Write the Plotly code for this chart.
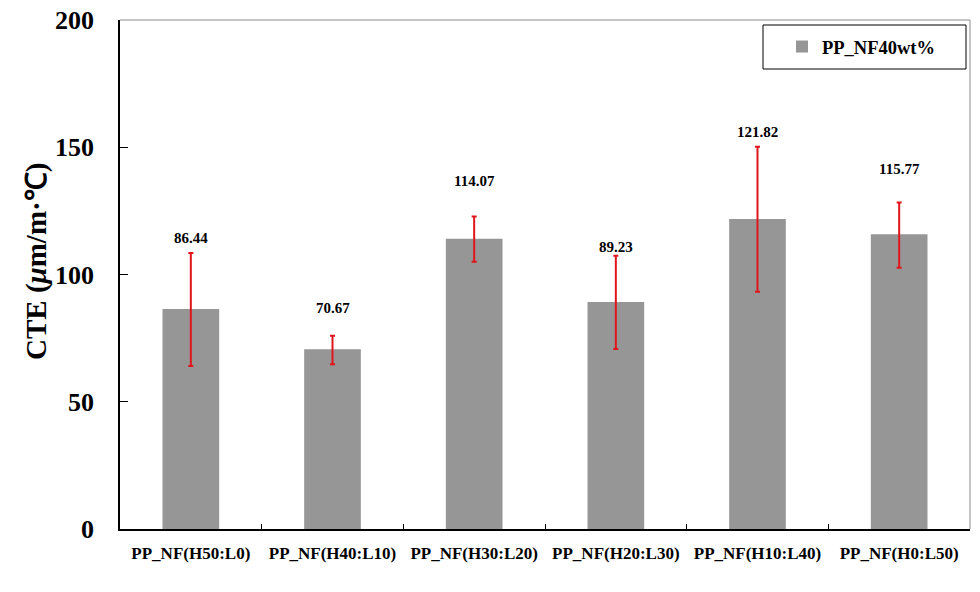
import plotly.graph_objects as go

categories = ["PP_NF(H50:L0)", "PP_NF(H40:L10)", "PP_NF(H30:L20)",
              "PP_NF(H20:L30)", "PP_NF(H10:L40)", "PP_NF(H0:L50)"]
values = [86.44, 70.67, 114.07, 89.23, 121.82, 115.77]
err_plus = [22.0, 5.3, 8.7, 18.1, 28.4, 12.5]
err_minus = [22.4, 5.9, 9.1, 18.5, 28.6, 13.1]
label_text = ["86.44", "70.67", "114.07", "89.23", "121.82", "115.77"]
label_y = [114.3, 86.8, 136.9, 110.7, 156.1, 141.5]
series_name = "PP_NF40wt%"
y_title = "CTE (<i>μ</i>m/m·℃)"
y_ticks = [0, 50, 100, 150, 200]

FONT = "Liberation Serif, Times New Roman, serif"

fig = go.Figure()
fig.add_trace(go.Bar(
    x=categories, y=values, name=series_name,
    marker=dict(color="#969696", line=dict(width=0)),
    width=0.4,
    error_y=dict(type="data", symmetric=False, array=err_plus, arrayminus=err_minus,
                 color="#e0161c", thickness=2, width=2.5),
    showlegend=True,
))

for c, t, ly in zip(categories, label_text, label_y):
    fig.add_annotation(x=c, y=ly, text=t, showarrow=False,
                       font=dict(family=FONT, size=15, color="black", weight="bold"),
                       xref="x", yref="y")

# y-axis title as rotated annotation
fig.add_annotation(xref="paper", yref="paper", x=(36 - 120) / 850, y=(529 - 262) / 509,
                   text=y_title, textangle=-90, showarrow=False,
                   xanchor="center", yanchor="middle",
                   font=dict(family=FONT, size=29, color="black", weight="bold"))

# gray top/right frame
fig.add_shape(type="line", xref="paper", yref="paper", x0=0, x1=1, y0=1, y1=1,
              line=dict(color="#8c8c8c", width=1))
fig.add_shape(type="line", xref="paper", yref="paper", x0=1, x1=1, y0=0, y1=1,
              line=dict(color="#8c8c8c", width=1))
# legend box
fig.add_shape(type="rect", xref="paper", yref="paper",
              x0=(763 - 120) / 850, x1=(966 - 120) / 850,
              y0=(529 - 69) / 509, y1=(529 - 25) / 509,
              line=dict(color="black", width=1), fillcolor="white", layer="below")

fig.update_layout(
    width=980, height=592,
    margin=dict(l=120, r=10, t=20, b=63, autoexpand=False),
    paper_bgcolor="white", plot_bgcolor="white",
    bargap=0.6,
    font=dict(family=FONT, color="black"),
    legend=dict(x=(782 - 120) / 850, y=(529 - 47) / 509, xanchor="left", yanchor="middle",
                bgcolor="rgba(0,0,0,0)", borderwidth=0, itemwidth=30,
                font=dict(family=FONT, size=18.5, color="black", weight="bold")),
    xaxis=dict(
        showline=True, linecolor="black", linewidth=1.5,
        ticks="inside", tickson="boundaries", ticklen=5, tickcolor="black",
        tickfont=dict(family=FONT, size=17, color="black", weight="bold"),
        showgrid=False, zeroline=False, automargin=False,
        ticklabelstandoff=8,
    ),
    yaxis=dict(
        range=[0, 200], tickvals=y_ticks,
        showline=True, linecolor="black", linewidth=1.5,
        ticks="inside", ticklen=8, tickcolor="black",
        tickfont=dict(family=FONT, size=26, color="black", weight="bold"),
        showgrid=False, zeroline=False, automargin=False,
        ticklabelstandoff=19,
    ),
)

fig.write_html("out.html", post_script="document.body.style.margin='0';",
               config={"displayModeBar": False})
